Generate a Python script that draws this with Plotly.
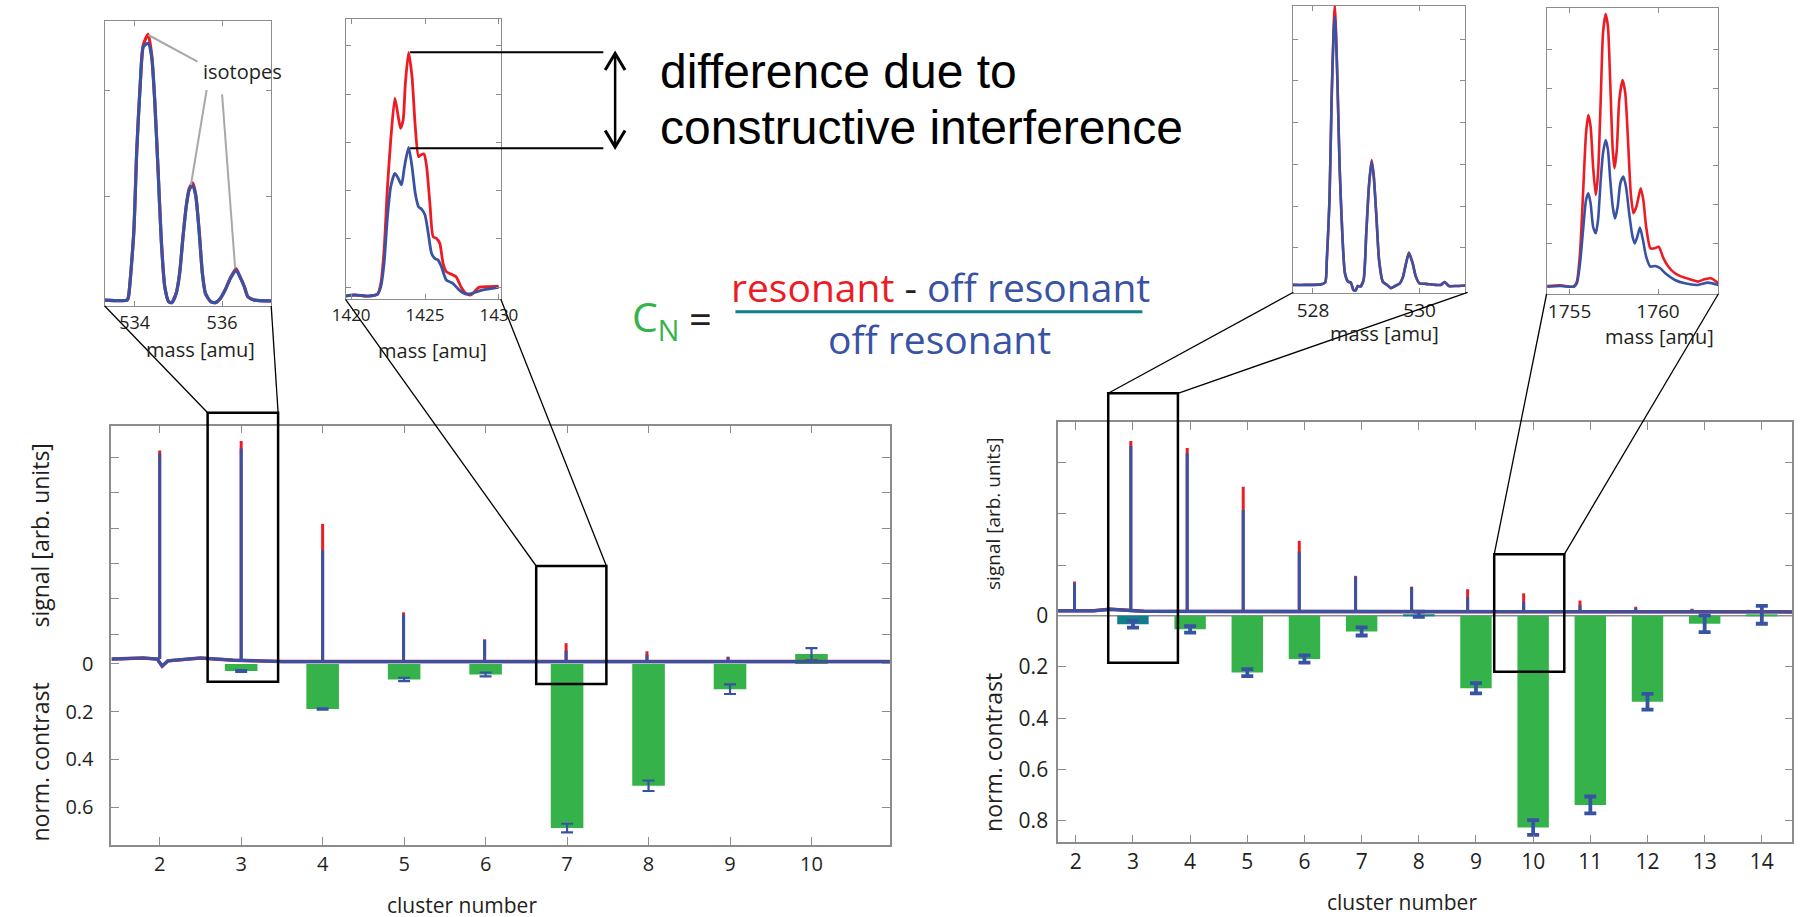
import plotly.graph_objects as go

# ---------------- data ----------------
# Left main panel (clusters, normalised contrast)
left_clusters = [3, 4, 5, 6, 7, 8, 9, 10]
left_contrast = [0.030, 0.189, 0.065, 0.044, 0.687, 0.510, 0.106, -0.041]
left_contrast_err = [0.004, 0.003, 0.007, 0.008, 0.018, 0.022, 0.020, 0.025]
# Left mass-spectrum peaks (signal, arb. units)
left_peak_pos = [2.0, 3.0, 4.0, 4.993, 5.988, 6.988, 7.981, 8.976]
left_peak_base = [0.30, 0.25, 0.23, 0.23, 0.23, 0.23, 0.23, 0.23]
left_peak_res = [6.19, 6.46, 4.12, 1.62, 0.86, 0.75, 0.52, 0.37]
left_peak_off = [6.11, 6.25, 3.38, 1.55, 0.84, 0.54, 0.42, 0.35]
left_base_x = [1.41, 1.8, 1.97, 2.03, 2.1, 2.5, 2.9, 3.5, 10.96]
left_base_y = [0.30, 0.33, 0.30, 0.10, 0.25, 0.33, 0.27, 0.23, 0.23]

# Right main panel
right_clusters = [3, 4, 5, 6, 7, 8, 9, 10, 11, 12, 13, 14]
right_contrast = [0.033, 0.053, 0.222, 0.169, 0.061, -0.006, 0.283, 0.827, 0.739, 0.336, 0.031, -0.004]
right_contrast_err = [0.013, 0.013, 0.014, 0.014, 0.016, 0.010, 0.020, 0.029, 0.033, 0.031, 0.033, 0.035]
right_bar_kind = ["teal", "green", "green", "green", "green", "teal", "green", "green", "green", "green", "green", "green"]
right_peak_pos = [1.978, 2.963, 3.949, 4.929, 5.909, 6.894, 7.874, 8.854, 9.834, 10.819, 11.794, 12.779, 13.759]
right_peak_base = [0.10, 0.12, 0.10, 0.09, 0.09, 0.09, 0.09, 0.09, 0.09, 0.09, 0.09, 0.09, 0.09]
right_peak_res = [0.68, 3.41, 3.27, 2.52, 1.47, 0.79, 0.58, 0.53, 0.45, 0.31, 0.19, 0.15, 0.13]
right_peak_off = [0.65, 3.31, 3.17, 2.07, 1.26, 0.77, 0.57, 0.38, 0.29, 0.22, 0.16, 0.14, 0.12]
right_base_x = [1.69, 2.3, 2.6, 3.2, 14.53]
right_base_y = [0.11, 0.11, 0.14, 0.10, 0.09]

# Inset 1 (mass ~534-537)
ins1_mass = [533.32, 533.83, 533.86, 533.98, 534.05, 534.13, 534.20, 534.31, 534.39, 534.46,
             534.54, 534.61, 534.69, 534.78, 534.85, 534.95, 535.03, 535.10, 535.18, 535.25,
             535.33, 535.40, 535.48, 535.55, 535.62, 535.74, 535.85, 535.96, 536.07, 536.19,
             536.32, 536.39, 536.51, 536.59, 536.74, 537.12]
ins1_off = [0, 0, 0.013, 0.26, 0.584, 0.844, 0.987, 1.0, 0.948, 0.779,
            0.494, 0.234, 0.052, -0.006, -0.01, 0.026, 0.104, 0.234, 0.364, 0.429,
            0.448, 0.403, 0.26, 0.104, 0.026, -0.006, -0.01, 0.006, 0.039, 0.084,
            0.117, 0.097, 0.052, 0.013, 0, -0.003]
ins1_res = [0, 0, 0.013, 0.26, 0.584, 0.844, 0.995, 1.035, 0.955, 0.779,
            0.494, 0.234, 0.052, -0.006, -0.01, 0.026, 0.104, 0.234, 0.364, 0.435,
            0.457, 0.408, 0.26, 0.104, 0.026, -0.006, -0.01, 0.006, 0.039, 0.086,
            0.123, 0.099, 0.052, 0.013, 0, -0.003]

# Inset 2 (mass ~1420-1430)
ins2_mass_res = [1419.62, 1420.24, 1421.13, 1421.79, 1422.01, 1422.23, 1422.46, 1422.68, 1422.96, 1423.19,
                 1423.34, 1423.52, 1423.67, 1423.89, 1424.12, 1424.34, 1424.56, 1424.71, 1424.93, 1425.11,
                 1425.33, 1425.55, 1425.77, 1426.00, 1426.22, 1426.44, 1426.66, 1427.10, 1427.43, 1427.77,
                 1428.10, 1428.65, 1429.31, 1429.98]
ins2_res = [0, 0.007, 0, 0.013, 0.085, 0.309, 0.735, 1.049, 1.330, 1.206,
            1.128, 1.184, 1.430, 1.639, 1.475, 1.139, 0.937, 0.948, 0.955, 0.870,
            0.623, 0.399, 0.388, 0.354, 0.220, 0.164, 0.152, 0.130, 0.063, 0.018,
            0.007, 0.058, 0.063, 0.067]
ins2_mass_off = [1419.62, 1420.24, 1421.13, 1421.79, 1422.01, 1422.23, 1422.46, 1422.68, 1422.96, 1423.19,
                 1423.41, 1423.61, 1423.89, 1424.12, 1424.34, 1424.56, 1424.78, 1425.00, 1425.22, 1425.44,
                 1425.66, 1425.88, 1426.11, 1426.44, 1426.88, 1427.32, 1427.77, 1428.21, 1428.87, 1429.98]
ins2_off = [0, 0.007, 0, 0.013, 0.063, 0.220, 0.534, 0.735, 0.825, 0.791,
            0.747, 0.870, 1.0, 0.870, 0.691, 0.601, 0.583, 0.545, 0.422, 0.287,
            0.253, 0.242, 0.197, 0.108, 0.085, 0.040, 0.013, 0.018, 0.040, 0.058]

# Inset 3 (mass ~528-531)
ins3_mass = [527.62, 527.85, 528.15, 528.23, 528.26, 528.31, 528.35, 528.39, 528.41, 528.43,
             528.46, 528.50, 528.55, 528.60, 528.66, 528.71, 528.76, 528.80, 528.84, 528.89,
             528.95, 529.00, 529.05, 529.10, 529.14, 529.19, 529.24, 529.31, 529.39, 529.46,
             529.54, 529.63, 529.69, 529.74, 529.80, 529.87, 529.93, 530.00, 530.12, 530.31,
             530.40, 530.47, 530.55, 530.68, 530.86]
ins3_off = [0, 0, 0.002, 0.009, 0.093, 0.317, 0.689, 0.950, 1.0, 0.938,
            0.752, 0.441, 0.193, 0.043, 0.012, 0.009, -0.019, -0.021, -0.004, -0.006,
            0.019, 0.193, 0.366, 0.460, 0.404, 0.255, 0.093, 0.012, 0, -0.012,
            -0.004, 0.006, 0.031, 0.075, 0.118, 0.081, 0.031, 0.006, 0.004, 0,
            0, 0.011, -0.004, -0.004, -0.002]
ins3_res = [0, 0, 0.002, 0.009, 0.093, 0.317, 0.70, 0.975, 1.045, 0.96,
            0.752, 0.441, 0.193, 0.043, 0.012, 0.009, -0.019, -0.021, -0.004, -0.006,
            0.019, 0.193, 0.37, 0.466, 0.408, 0.255, 0.093, 0.012, 0, -0.012,
            -0.004, 0.006, 0.031, 0.075, 0.121, 0.081, 0.031, 0.006, 0.004, 0,
            0, 0.011, -0.004, -0.004, -0.002]

# Inset 4 (mass ~1754-1763)
ins4_mass_res = [1753.74, 1754.48, 1755.22, 1755.41, 1755.59, 1755.78, 1755.93, 1756.06, 1756.19, 1756.33,
                 1756.48, 1756.61, 1756.76, 1756.89, 1757.04, 1757.17, 1757.30, 1757.44, 1757.54, 1757.67,
                 1757.81, 1758.00, 1758.15, 1758.33, 1758.46, 1758.61, 1758.78, 1759.02, 1759.17, 1759.33,
                 1759.57, 1759.81, 1760.04, 1760.31, 1760.59, 1760.96, 1761.33, 1761.80, 1762.26, 1762.63,
                 1763.00, 1763.41]
ins4_res = [0, 0.005, -0.005, 0.030, 0.224, 0.680, 1.046, 1.171, 1.091, 0.817,
            0.623, 0.772, 1.274, 1.731, 1.863, 1.776, 1.388, 0.932, 0.806, 0.932,
            1.274, 1.411, 1.320, 0.932, 0.635, 0.498, 0.543, 0.669, 0.589, 0.406,
            0.258, 0.258, 0.269, 0.189, 0.132, 0.087, 0.064, 0.046, 0.030, 0.046,
            0.053, 0.018]
ins4_mass_off = [1753.74, 1754.48, 1755.22, 1755.41, 1755.59, 1755.78, 1755.93, 1756.06, 1756.19, 1756.33,
                 1756.48, 1756.61, 1756.76, 1756.89, 1757.04, 1757.17, 1757.30, 1757.44, 1757.57, 1757.72,
                 1757.87, 1758.04, 1758.19, 1758.37, 1758.56, 1758.69, 1758.83, 1758.98, 1759.15, 1759.33,
                 1759.57, 1759.85, 1760.13, 1760.41, 1760.96, 1761.52, 1762.26, 1762.81, 1763.41]
ins4_off = [-0.005, 0, -0.005, 0.018, 0.155, 0.406, 0.589, 0.635, 0.566, 0.406,
            0.361, 0.452, 0.726, 0.909, 1.0, 0.932, 0.726, 0.543, 0.463, 0.543,
            0.703, 0.749, 0.680, 0.498, 0.338, 0.292, 0.338, 0.400, 0.315, 0.201,
            0.132, 0.137, 0.121, 0.087, 0.041, 0.018, 0.007, 0.023, 0.007]

# ---------------- styling helpers ----------------
W, H = 1810, 917
def px(x):
    return x / W
def py(y):
    return 1 - y / H

RED = '#ed1c24'
BLUE = '#3953a4'
GREEN = '#35b34a'
TEAL = '#0f7f8b'
AX = '#8c8c8c'
TXT = '#231f20'
FONT = 'Open Sans'

def spikes(pos, base, heights):
    xs, ys = [], []
    for p, b, h in zip(pos, base, heights):
        xs += [p, p, None]
        ys += [b, h, None]
    return xs, ys

fig = go.Figure()

# ---------------- left main panel ----------------
fig.add_trace(go.Bar(x=left_clusters, y=left_contrast, width=0.4,
                     marker=dict(color=GREEN, line=dict(width=0)),
                     error_y=dict(type='data', array=left_contrast_err, color=BLUE, thickness=2.2, width=6),
                     xaxis='x', yaxis='y', hoverinfo='skip'))
fig.add_trace(go.Scatter(x=left_base_x, y=left_base_y, mode='lines', line=dict(color=RED, width=3.5),
                         xaxis='x', yaxis='y2'))
sx, sy = spikes(left_peak_pos, left_peak_base, left_peak_res)
fig.add_trace(go.Scatter(x=sx, y=sy, mode='lines', line=dict(color=RED, width=3), xaxis='x', yaxis='y2'))
fig.add_trace(go.Scatter(x=left_base_x, y=left_base_y, mode='lines', line=dict(color=BLUE, width=3.2),
                         xaxis='x', yaxis='y2'))
sx, sy = spikes(left_peak_pos, left_peak_base, left_peak_off)
fig.add_trace(go.Scatter(x=sx, y=sy, mode='lines', line=dict(color=BLUE, width=3), xaxis='x', yaxis='y2'))

# ---------------- right main panel ----------------
fig.add_trace(go.Bar(x=right_clusters, y=right_contrast, width=0.55,
                     marker=dict(color=[TEAL if k == 'teal' else GREEN for k in right_bar_kind], line=dict(width=0)),
                     error_y=dict(type='data', array=right_contrast_err, color=BLUE, thickness=3.8, width=6),
                     xaxis='x3', yaxis='y3', hoverinfo='skip'))
fig.add_trace(go.Scatter(x=right_base_x, y=right_base_y, mode='lines', line=dict(color=RED, width=3.5),
                         xaxis='x3', yaxis='y4'))
sx, sy = spikes(right_peak_pos, right_peak_base, right_peak_res)
fig.add_trace(go.Scatter(x=sx, y=sy, mode='lines', line=dict(color=RED, width=3), xaxis='x3', yaxis='y4'))
fig.add_trace(go.Scatter(x=right_base_x, y=right_base_y, mode='lines', line=dict(color=BLUE, width=3.4),
                         xaxis='x3', yaxis='y4'))
sx, sy = spikes(right_peak_pos, right_peak_base, right_peak_off)
fig.add_trace(go.Scatter(x=sx, y=sy, mode='lines', line=dict(color=BLUE, width=3), xaxis='x3', yaxis='y4'))

# ---------------- insets ----------------
def add_pair(xr, yr, xo, yo, xa, ya, w=3):
    fig.add_trace(go.Scatter(x=xr, y=yr, mode='lines', line=dict(color=RED, width=w, shape='spline', smoothing=0.6),
                             xaxis=xa, yaxis=ya))
    fig.add_trace(go.Scatter(x=xo, y=yo, mode='lines', line=dict(color=BLUE, width=w, shape='spline', smoothing=0.6),
                             xaxis=xa, yaxis=ya))

add_pair(ins1_mass, ins1_res, ins1_mass, ins1_off, 'x5', 'y5', 3.2)
add_pair(ins2_mass_res, ins2_res, ins2_mass_off, ins2_off, 'x6', 'y6', 2.8)
add_pair(ins3_mass, ins3_res, ins3_mass, ins3_off, 'x7', 'y7', 2.6)
add_pair(ins4_mass_res, ins4_res, ins4_mass_off, ins4_off, 'x8', 'y8', 2.6)

# ---------------- axes ----------------
def base_axis(**kw):
    d = dict(showline=True, linecolor=AX, linewidth=1.5, mirror='ticks', ticks='inside',
             tickcolor=AX, tickwidth=1.3, showgrid=False, zeroline=False,
             tickfont=dict(family=FONT, size=20, color=TXT))
    d.update(kw)
    return d

layout_axes = dict(
    xaxis=base_axis(domain=[px(99), px(891.3)], range=[1.406, 10.964], tickvals=list(range(2, 11)),
                    ticklen=8, anchor='y', ticklabelstandoff=0),
    yaxis=base_axis(domain=[py(845), py(425.7)], range=[0.758, -0.997], tickvals=[0, 0.2, 0.4, 0.6],
                    ticktext=['0', '0.2', '0.4', '0.6'], ticklen=8, anchor='x', ticklabelstandoff=12),
    yaxis2=base_axis(domain=[py(845), py(425.7)], range=[-4.952, 6.893], tickvals=[1, 2, 3, 4, 5, 6],
                     showticklabels=False, ticklen=8, anchor='x', overlaying='y', side='left'),
    xaxis3=base_axis(domain=[px(1062.3), px(1809.3)], range=[1.691, 14.533], tickvals=list(range(2, 15)),
                     ticklen=8, anchor='y3', ticklabelstandoff=0, tickfont=dict(family=FONT, size=21, color=TXT)),
    yaxis3=base_axis(domain=[py(842.3), py(422.3)], range=[0.885, -0.756], tickvals=[0, 0.2, 0.4, 0.6, 0.8],
                     ticktext=['0', '0.2', '0.4', '0.6', '0.8'], ticklen=8, anchor='x3', ticklabelstandoff=4,
                     tickfont=dict(family=FONT, size=21, color=TXT)),
    yaxis4=base_axis(domain=[py(842.3), py(422.3)], range=[-4.384, 3.771], tickvals=[1, 2, 3],
                     showticklabels=False, ticklen=8, anchor='x3', overlaying='y3', side='left'),
    xaxis5=base_axis(domain=[px(92.3), px(261.7)], range=[533.317, 537.124], tickvals=[534, 536],
                     ticklen=5, anchor='y5', linewidth=1.2, tickfont=dict(family=FONT, size=18, color=TXT)),
    yaxis5=base_axis(domain=[py(306), py(21)], range=[-0.023, 1.087], tickvals=[0.403, 0.818],
                     showticklabels=False, ticklen=5, anchor='x5', linewidth=1.2),
    xaxis6=base_axis(domain=[px(337.3), px(495.3)], range=[1419.62, 1430.13], tickvals=[1420, 1425, 1430],
                     ticklen=5, anchor='y6', linewidth=1.2, tickfont=dict(family=FONT, size=17, color=TXT)),
    yaxis6=base_axis(domain=[py(299.3), py(18.7)], range=[-0.022, 1.865],
                     tickvals=[0.058, 0.386, 0.709, 1.034, 1.357, 1.684],
                     showticklabels=False, ticklen=5, anchor='x6', linewidth=1.2),
    xaxis7=base_axis(domain=[px(1301), px(1476.7)], range=[527.62, 530.86], tickvals=[528, 530],
                     ticklen=5, anchor='y7', linewidth=1.2, tickfont=dict(family=FONT, size=19, color=TXT)),
    yaxis7=base_axis(domain=[py(292.7), py(6)], range=[-0.029, 1.04],
                     tickvals=[0.138, 0.294, 0.450, 0.606, 0.763, 0.916],
                     showticklabels=False, ticklen=5, anchor='x7', linewidth=1.2),
    xaxis8=base_axis(domain=[px(1559.3), px(1734)], range=[1753.7, 1763.41], tickvals=[1755, 1760],
                     ticklen=5, anchor='y8', linewidth=1.2, tickfont=dict(family=FONT, size=19, color=TXT)),
    yaxis8=base_axis(domain=[py(294), py(8.3)], range=[-0.055, 1.902],
                     tickvals=[0.290, 0.555, 0.822, 1.087, 1.354, 1.621],
                     showticklabels=False, ticklen=5, anchor='x8', linewidth=1.2),
)

# ---------------- shapes ----------------
shapes = []
def line(x0, y0, x1, y1, color='black', width=1.3):
    shapes.append(dict(type='line', xref='paper', yref='paper', x0=px(x0), y0=py(y0), x1=px(x1), y1=py(y1),
                       line=dict(color=color, width=width)))
def rect(x0, y0, x1, y1):
    shapes.append(dict(type='rect', xref='paper', yref='paper', x0=px(x0), y0=py(y0), x1=px(x1), y1=py(y1),
                       line=dict(color='black', width=2.5)))

# gray zero line of right panel
shapes.append(dict(type='line', xref='x3 domain', yref='y3', x0=0, x1=1, y0=0, y1=0,
                   line=dict(color='#8c8c8c', width=1.5), layer='below'))

rect(197, 412.7, 268.7, 681.7)
rect(531.3, 566, 602.7, 684)
rect(1113.3, 393.3, 1184.2, 662.7)
rect(1506, 554.3, 1577.3, 671.7)
line(92.3, 306, 197, 412.7)
line(261.7, 306, 268.7, 412.7)
line(337.3, 299.3, 531.3, 566)
line(495.3, 299.3, 602.7, 566)
line(1301.7, 292.3, 1113.3, 393.3)
line(1479, 292.3, 1184.2, 393.3)
line(1559.3, 294, 1506, 554.3)
line(1734, 294, 1577.3, 554.3)

# isotopes pointer lines
line(136.7, 35, 186.7, 61.7, color='#a8a8a8', width=2)
line(196, 90, 180, 185, color='#a8a8a8', width=2)
line(211.7, 94.3, 225, 268.3, color='#a8a8a8', width=2)

# difference markers + double arrow
line(403, 52.3, 599.6, 52.3, width=2)
line(403, 148.3, 599.6, 148.3, width=2)
line(611.6, 55, 611.6, 146, width=2.5)
shapes.append(dict(type='path', xref='paper', yref='paper',
                   path=f"M {px(601.5)},{py(70)} L {px(611.6)},{py(53.5)} L {px(621.7)},{py(70)}",
                   line=dict(color='black', width=3)))
shapes.append(dict(type='path', xref='paper', yref='paper',
                   path=f"M {px(601.5)},{py(130.5)} L {px(611.6)},{py(147)} L {px(621.7)},{py(130.5)}",
                   line=dict(color='black', width=3)))

# fraction bar
line(734, 311.7, 1148, 311.7, color=TEAL, width=3)

# ---------------- annotations ----------------
ann = []
def text(x, y, s, size, color=TXT, family=FONT, xanchor='center', angle=0):
    ann.append(dict(x=px(x), y=py(y), xref='paper', yref='paper', text=s, showarrow=False,
                    xanchor=xanchor, yanchor='middle', textangle=angle,
                    font=dict(family=family, size=size, color=color)))

text(190, 71.7, 'isotopes', 20, xanchor='left')
text(190, 349.3, 'mass [amu]', 20)
text(425.3, 351, 'mass [amu]', 20)
text(1394, 333.3, 'mass [amu]', 20)
text(1674, 336.7, 'mass [amu]', 20)

text(655, 72, 'difference due to', 48, color='black', family='Liberation Sans', xanchor='left')
text(655, 128, 'constructive interference', 48, color='black', family='Liberation Sans', xanchor='left')

text(627, 318, f"<span style='color:{GREEN}'>C<sub>N</sub></span>", 41, xanchor='left')
text(698, 318, '=', 40, color=TXT)
text(943, 287,
     f"<span style='color:{RED}'>resonant</span> - <span style='color:{BLUE}'>off resonant</span>", 39)
text(942, 338, 'off resonant', 39, color=BLUE)

text(456, 905, 'cluster number', 21)
text(1412.5, 901.7, 'cluster number', 21)
text(26, 536, 'signal [arb. units]', 23, angle=-90)
text(26, 762, 'norm. contrast', 23, angle=-90)
text(996, 514, 'signal [arb. units]', 19, angle=-90)
text(996, 752, 'norm. contrast', 23, angle=-90)

fig.update_layout(
    width=W, height=H, margin=dict(l=0, r=0, t=0, b=0),
    paper_bgcolor='white', plot_bgcolor='white', showlegend=False,
    barmode='overlay', shapes=shapes, annotations=ann,
    **layout_axes
)

fig.write_html("out.html")
